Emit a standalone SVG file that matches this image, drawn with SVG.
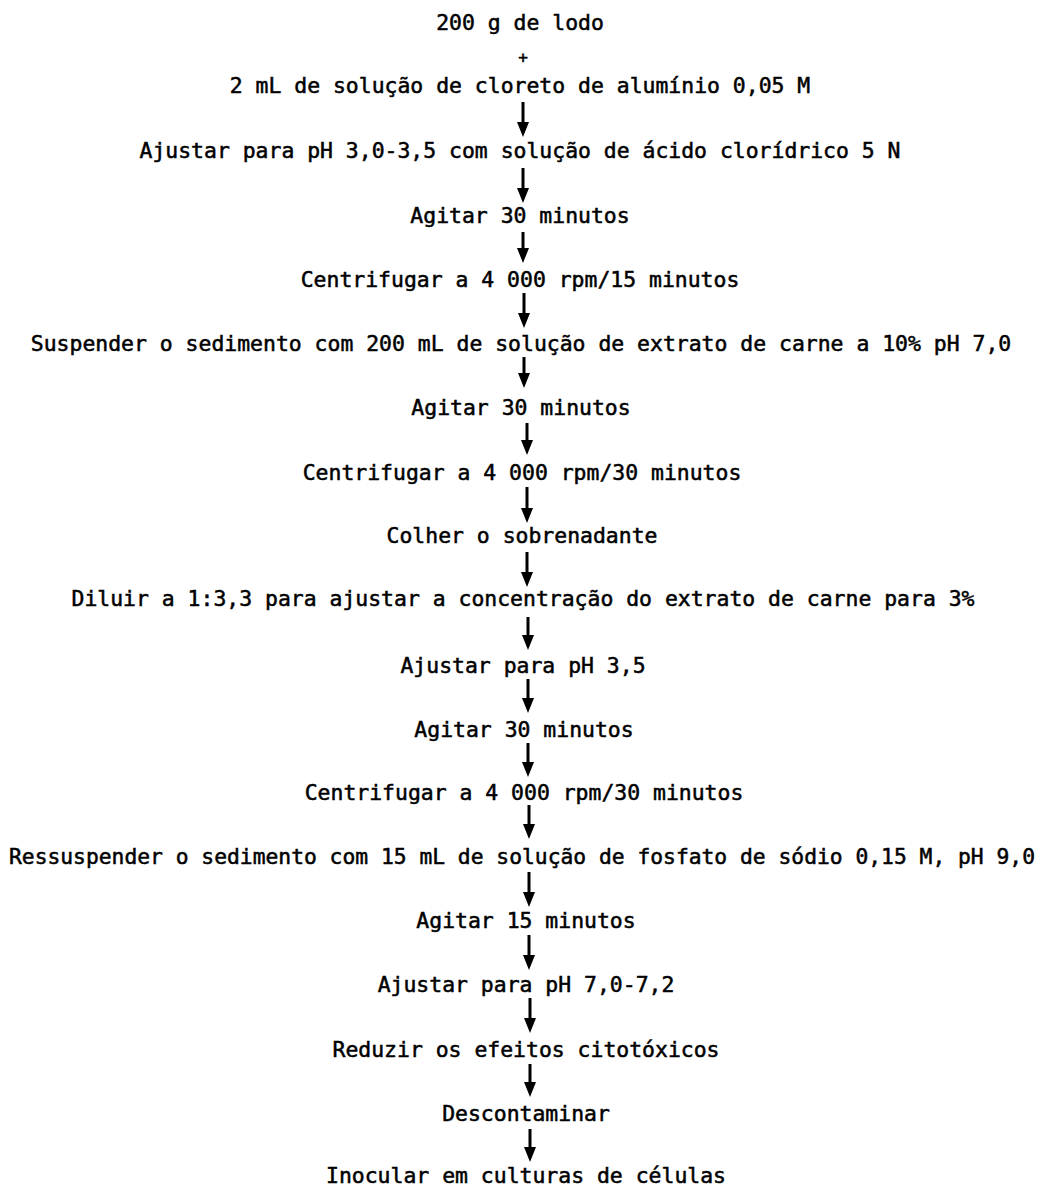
<svg xmlns="http://www.w3.org/2000/svg" width="1039" height="1186" viewBox="0 0 1039 1186">
<style>
text{font-family:"DejaVu Sans Mono","Liberation Mono",monospace;font-size:20.5px;fill:#000;stroke:#000;stroke-width:0.5;text-anchor:middle}
.c line{stroke:#000;stroke-width:3;marker-end:url(#ah)}
</style>
<defs>
<marker id="ah" markerUnits="userSpaceOnUse" viewBox="0 0 15 12" markerWidth="15" markerHeight="12" refX="5" refY="6" orient="auto">
<path d="M0,0 L15,6 L0,12 Z" fill="#000"/>
</marker>
</defs>
<rect width="1039" height="1186" fill="#fff"/>
<g id="n1"><text x="520" y="30" textLength="167.7" lengthAdjust="spacingAndGlyphs">200 g de lodo</text></g>
<g id="plus"><text x="523" y="63" style="font-size:16px">+</text></g>
<g id="n2"><text x="520" y="93" textLength="580.5" lengthAdjust="spacingAndGlyphs">2 mL de solução de cloreto de alumínio 0,05 M</text></g>
<g id="n3"><text x="520" y="158" textLength="761" lengthAdjust="spacingAndGlyphs">Ajustar para pH 3,0-3,5 com solução de ácido clorídrico 5 N</text></g>
<g id="n4"><text x="520" y="223" textLength="219.3" lengthAdjust="spacingAndGlyphs">Agitar 30 minutos</text></g>
<g id="n5"><text x="520" y="287" textLength="438.6" lengthAdjust="spacingAndGlyphs">Centrifugar a 4 000 rpm/15 minutos</text></g>
<g id="n6"><text x="521" y="351" textLength="980.4" lengthAdjust="spacingAndGlyphs">Suspender o sedimento com 200 mL de solução de extrato de carne a 10% pH 7,0</text></g>
<g id="n7"><text x="521" y="415" textLength="219.3" lengthAdjust="spacingAndGlyphs">Agitar 30 minutos</text></g>
<g id="n8"><text x="522" y="480" textLength="438.6" lengthAdjust="spacingAndGlyphs">Centrifugar a 4 000 rpm/30 minutos</text></g>
<g id="n9"><text x="522" y="543" textLength="270.9" lengthAdjust="spacingAndGlyphs">Colher o sobrenadante</text></g>
<g id="n10"><text x="523" y="606" textLength="903" lengthAdjust="spacingAndGlyphs">Diluir a 1:3,3 para ajustar a concentração do extrato de carne para 3%</text></g>
<g id="n11"><text x="523" y="673" textLength="245.1" lengthAdjust="spacingAndGlyphs">Ajustar para pH 3,5</text></g>
<g id="n12"><text x="524" y="737" textLength="219.3" lengthAdjust="spacingAndGlyphs">Agitar 30 minutos</text></g>
<g id="n13"><text x="524" y="800" textLength="438.6" lengthAdjust="spacingAndGlyphs">Centrifugar a 4 000 rpm/30 minutos</text></g>
<g id="n14"><text x="522" y="864" textLength="1026" lengthAdjust="spacingAndGlyphs">Ressuspender o sedimento com 15 mL de solução de fosfato de sódio 0,15 M, pH 9,0</text></g>
<g id="n15"><text x="526" y="928" textLength="219.3" lengthAdjust="spacingAndGlyphs">Agitar 15 minutos</text></g>
<g id="n16"><text x="526" y="992" textLength="296.7" lengthAdjust="spacingAndGlyphs">Ajustar para pH 7,0-7,2</text></g>
<g id="n17"><text x="526" y="1057" textLength="387" lengthAdjust="spacingAndGlyphs">Reduzir os efeitos citotóxicos</text></g>
<g id="n18"><text x="526" y="1121" textLength="167.7" lengthAdjust="spacingAndGlyphs">Descontaminar</text></g>
<g id="n19"><text x="526" y="1183" textLength="400" lengthAdjust="spacingAndGlyphs">Inocular em culturas de células</text></g>
<g id="connectors" class="c">
<line x1="523" y1="102" x2="523" y2="127"/>
<line x1="523" y1="168" x2="523" y2="193"/>
<line x1="523" y1="232" x2="523" y2="253"/>
<line x1="524" y1="293" x2="524" y2="318"/>
<line x1="524" y1="357" x2="524" y2="378"/>
<line x1="527" y1="423" x2="527" y2="445"/>
<line x1="527" y1="487" x2="527" y2="513"/>
<line x1="527" y1="552" x2="527" y2="577"/>
<line x1="528" y1="617" x2="528" y2="640"/>
<line x1="528" y1="679" x2="528" y2="703"/>
<line x1="528" y1="743" x2="528" y2="767"/>
<line x1="529" y1="805" x2="529" y2="829"/>
<line x1="529" y1="872" x2="529" y2="897"/>
<line x1="529" y1="935" x2="529" y2="960"/>
<line x1="530" y1="998" x2="530" y2="1023"/>
<line x1="530" y1="1064" x2="530" y2="1087"/>
<line x1="530" y1="1129" x2="530" y2="1152"/>
</g>
</svg>
